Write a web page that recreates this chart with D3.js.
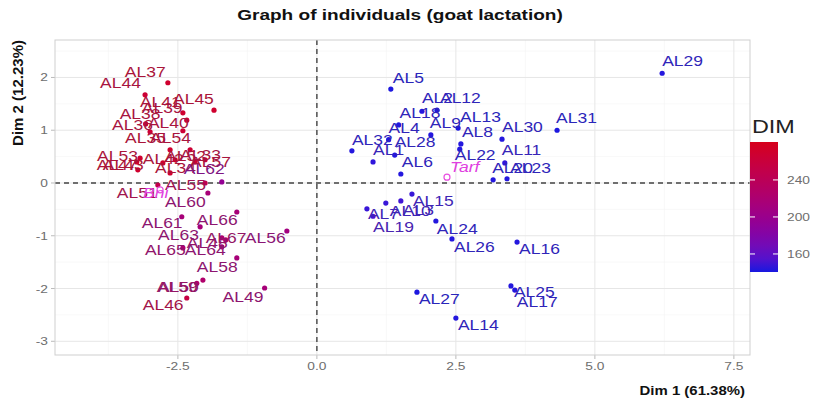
<!DOCTYPE html>
<html><head><meta charset="utf-8">
<script src="https://cdn.jsdelivr.net/npm/d3@7"></script>
<style>body{margin:0;background:#fff} text{font-family:"Liberation Sans",Arial,sans-serif}</style>
</head><body><svg id="c" width="814" height="404"></svg>
<script>
// ---------- data ----------
const ids = ["AL29","AL5","AL2","AL12","AL18","AL4","AL9","AL13","AL8","AL22","AL30","AL31","AL32","AL28","AL1","AL6","AL11","AL20","AL23","AL15","AL3","AL10","AL7","AL19","AL24","AL26","AL16","AL27","AL14","AL25","AL17",
  "AL37","AL44","AL41","AL45","AL39","AL38","AL40","AL36","AL35","AL54","AL53","AL47","AL43","AL42","AL52","AL33","AL57","AL34","AL62","AL51","AL55","AL60","AL61","AL66","AL63","AL48","AL64","AL65","AL67","AL56","AL58","AL50","AL59","AL46","AL49"];
const dim1 = [6.21,1.33,1.89,2.16,1.47,1.29,2.05,2.54,2.59,2.57,3.33,4.32,0.63,1.40,1.01,1.51,3.38,3.17,3.42,1.71,1.51,1.24,0.90,1.01,2.14,2.43,3.60,1.80,2.50,3.49,3.56,
  -2.68,-3.09,-2.41,-1.85,-2.34,-3.08,-2.41,-3.00,-2.64,-2.28,-3.18,-3.24,-3.22,-2.77,-2.55,-2.01,-2.19,-2.64,-1.71,-2.86,-2.01,-1.96,-2.43,-1.44,-2.10,-1.71,-1.71,-2.41,-1.64,-0.54,-1.44,-2.05,-2.16,-2.34,-0.94];
const dim2 = [2.08,1.78,1.36,1.38,1.10,0.82,0.91,1.04,0.74,0.64,0.83,1.00,0.61,0.53,0.40,0.17,0.38,0.06,0.08,-0.21,-0.34,-0.38,-0.49,-0.63,-0.72,-1.06,-1.12,-2.07,-2.56,-1.95,-2.03,
  1.90,1.67,1.33,1.38,1.19,1.12,0.99,0.97,0.63,0.63,0.47,0.40,0.25,0.38,0.44,0.44,0.40,0.19,0.02,-0.04,0.00,-0.19,-0.64,-0.55,-0.83,-1.04,-1.21,-1.23,-1.08,-0.91,-1.42,-1.84,-1.90,-2.18,-1.99];
const dimDays = [142,141,142,142,142,142,142,141,142,142,142,141,142,142,144,142,144,142,142,146,148,146,146,150,142,142,142,141,142,142,142,
  270,265,270,270,265,265,265,265,270,265,270,270,270,270,270,260,265,270,195,250,245,215,215,215,215,220,215,220,225,210,215,225,225,255,215];
const supIds = ["Tarf","Bni"];
const supDim1 = [2.34,-2.82];
const supDim2 = [0.11,-0.13];
const xTicks = [-2.5,0,2.5,5,7.5];
const xTickLabels = ["-2.5","0.0","2.5","5.0","7.5"];
const yTicks = [-3,-2,-1,0,1,2];
const legendTicks = [160,200,240];

// ---------- layout (label nudges in px, left edge / vertical centre) ----------
const labelNudge = {
  AL29:[0,-12],AL5:[2,-11],AL2:[0,-13],AL12:[3,-12],AL18:[1,-12],AL4:[0,-12],AL9:[-1,-12],AL13:[2,-11],AL8:[1,-12],AL22:[-5,6],
  AL30:[0,-12],AL31:[-1,-12],AL32:[0,-11],AL28:[0,-13],AL1:[0,-12],AL6:[1,-12],AL11:[-3,-13],AL20:[-1,-12],AL23:[3,-11],
  AL15:[1,7],AL3:[2,9],AL10:[4,8],AL7:[1,5],AL19:[0,11],AL24:[1,8],AL26:[2,8],AL16:[2,7],AL27:[2,7],AL14:[2,7],AL25:[3,6],AL17:[2,12],
  AL37:[-43,-11],AL44:[-45,-12],AL41:[-43,-11],AL45:[-41,-11],AL39:[-45,-12],AL38:[-26,-10],AL40:[-35,-8],AL36:[-38,-7],AL35:[-45,-12],
  AL54:[-40,-12],AL53:[-43,-2],AL47:[-40,3],AL43:[-35,-5],AL42:[-20,-4],AL52:[-10,-4],AL33:[-25,-5],AL57:[-5,0],AL34:[-15,-5],AL62:[-38,-13],
  AL51:[-41,8],AL55:[-40,2],AL60:[-43,9],AL61:[-40,6],AL66:[-40,8],AL63:[-42,8],AL48:[-35,5],AL64:[-37,3],AL65:[-38,2],AL67:[-20,-2],
  AL56:[-42,7],AL58:[-40,9],AL50:[-45,7],AL59:[-40,4],AL46:[-44,7],AL49:[-42,9],
  Tarf:[3,-10],Bni:[-17,3]
};

const SX = 1.25; // horizontal stretch of the reference text
const svg = d3.select("#c");
const P = {l:55, r:750, t:40, b:355};
const x = d3.scaleLinear().domain([-4.71,7.79]).range([P.l,P.r]);
const y = d3.scaleLinear().domain([-3.26,2.71]).range([P.b,P.t]);
const color = d3.scaleSequential(d3.interpolateLab("#1818e0","#d6001c")).domain([140.5,281]);
const labelColor = c => d3.interpolateRgb(color(c), "#4a4a5a")(0.28);

function stext(g, px, py, str, sx) {
  return g.append("text").attr("transform", `translate(${px},${py}) scale(${sx||SX},1)`).text(str);
}

// grid
const grid = svg.append("g");
const xMinor = xTicks.map(v=>v-1.25).concat([xTicks[xTicks.length-1]-1.25+2.5]).filter(v=>v>x.domain()[0]&&v<x.domain()[1]);
const yMinor = yTicks.map(v=>v+0.5).filter(v=>v<y.domain()[1]);
grid.selectAll(".xm").data(xMinor).join("line").attr("x1",d=>x(d)).attr("x2",d=>x(d)).attr("y1",P.t).attr("y2",P.b).attr("stroke","#f3f3f3").attr("stroke-width",0.6);
grid.selectAll(".ym").data(yMinor).join("line").attr("y1",d=>y(d)).attr("y2",d=>y(d)).attr("x1",P.l).attr("x2",P.r).attr("stroke","#f3f3f3").attr("stroke-width",0.6);
grid.selectAll(".xM").data(xTicks).join("line").attr("x1",d=>x(d)).attr("x2",d=>x(d)).attr("y1",P.t).attr("y2",P.b).attr("stroke","#e6e6e6").attr("stroke-width",1);
grid.selectAll(".yM").data(yTicks).join("line").attr("y1",d=>y(d)).attr("y2",d=>y(d)).attr("x1",P.l).attr("x2",P.r).attr("stroke","#e6e6e6").attr("stroke-width",1);

// axes ticks + labels
const ax = svg.append("g").attr("fill","#6e6e6e").attr("font-size",11);
xTicks.forEach((v,i)=>{
  ax.append("line").attr("x1",x(v)).attr("x2",x(v)).attr("y1",P.b).attr("y2",P.b+4).attr("stroke","#bbb");
  stext(ax, x(v), 370, xTickLabels[i]).attr("text-anchor","middle");
});
yTicks.forEach(v=>{
  ax.append("line").attr("y1",y(v)).attr("y2",y(v)).attr("x1",P.l-4).attr("x2",P.l).attr("stroke","#bbb");
  stext(ax, 48, y(v)+4, String(v)).attr("text-anchor","end");
});

// reference dashed lines
svg.append("line").attr("x1",x(0)).attr("x2",x(0)).attr("y1",P.t).attr("y2",P.b).attr("stroke","#444").attr("stroke-width",1.4).attr("stroke-dasharray","5,4");
svg.append("line").attr("y1",y(0)).attr("y2",y(0)).attr("x1",P.l).attr("x2",P.r).attr("stroke","#444").attr("stroke-width",1.4).attr("stroke-dasharray","5,4");

// points
const pts = ids.map((id,i)=>({id, a:dim1[i], b:dim2[i], c:dimDays[i]}));
svg.append("g").selectAll("circle").data(pts).join("circle")
  .attr("cx",d=>x(d.a)).attr("cy",d=>y(d.b)).attr("r",2.6).attr("fill",d=>color(d.c));
const lab = svg.append("g").attr("font-size",14);
pts.forEach(d=>{
  const n = labelNudge[d.id]||[2,-11];
  stext(lab, x(d.a)+n[0], y(d.b)+n[1]+5, d.id).attr("fill",labelColor(d.c));
});
// supplementary individuals
const sup = supIds.map((id,i)=>({id,a:supDim1[i],b:supDim2[i]}));
svg.append("g").selectAll("circle").data(sup).join("circle")
  .attr("cx",d=>x(d.a)).attr("cy",d=>y(d.b)).attr("r",3).attr("fill","none").attr("stroke","#e84fe0").attr("stroke-width",1.2);
const slab = svg.append("g").attr("font-size",14).attr("font-style","italic").attr("fill","#e040e0");
sup.forEach(d=>{
  const n = labelNudge[d.id];
  stext(slab, x(d.a)+n[0], y(d.b)+n[1]+5, d.id);
});

// panel border
svg.append("rect").attr("x",P.l).attr("y",P.t).attr("width",P.r-P.l).attr("height",P.b-P.t).attr("fill","none").attr("stroke","#cfcfcf").attr("stroke-width",1);

// titles
stext(svg, 400, 20, "Graph of individuals (goat lactation)", 1.27).attr("text-anchor","middle").attr("font-weight","bold").attr("font-size",15).attr("fill","#111");
stext(svg, 745, 395, "Dim 1 (61.38%)", 1.15).attr("text-anchor","end").attr("font-weight","bold").attr("font-size",13).attr("fill","#111");
svg.append("text").attr("transform","translate(23,40) rotate(-90)").attr("text-anchor","end").attr("font-weight","bold").attr("font-size",15).attr("fill","#111").text("Dim 2 (12.23%)");

// legend
const L = {x:750, w:28, t:142, b:272};
const ly = d3.scaleLinear().domain(color.domain()).range([L.b,L.t]);
const grad = svg.append("defs").append("linearGradient").attr("id","g").attr("x1",0).attr("x2",0).attr("y1",1).attr("y2",0);
d3.range(0,1.0001,0.1).forEach(t=>grad.append("stop").attr("offset",t).attr("stop-color",color(color.domain()[0]+t*(color.domain()[1]-color.domain()[0]))));
svg.append("rect").attr("x",L.x).attr("y",L.t).attr("width",L.w).attr("height",L.b-L.t).attr("fill","url(#g)");
legendTicks.forEach(v=>{
  svg.append("line").attr("x1",L.x).attr("x2",L.x+5).attr("y1",ly(v)).attr("y2",ly(v)).attr("stroke","#fff").attr("stroke-width",1);
  svg.append("line").attr("x1",L.x+L.w-5).attr("x2",L.x+L.w).attr("y1",ly(v)).attr("y2",ly(v)).attr("stroke","#fff").attr("stroke-width",1);
  stext(svg, 787, ly(v)+4, String(v)).attr("font-size",11).attr("fill","#6e6e6e");
});
stext(svg, 752, 133, "DIM", 1.23).attr("font-size",19).attr("fill","#222");
</script></body></html>
